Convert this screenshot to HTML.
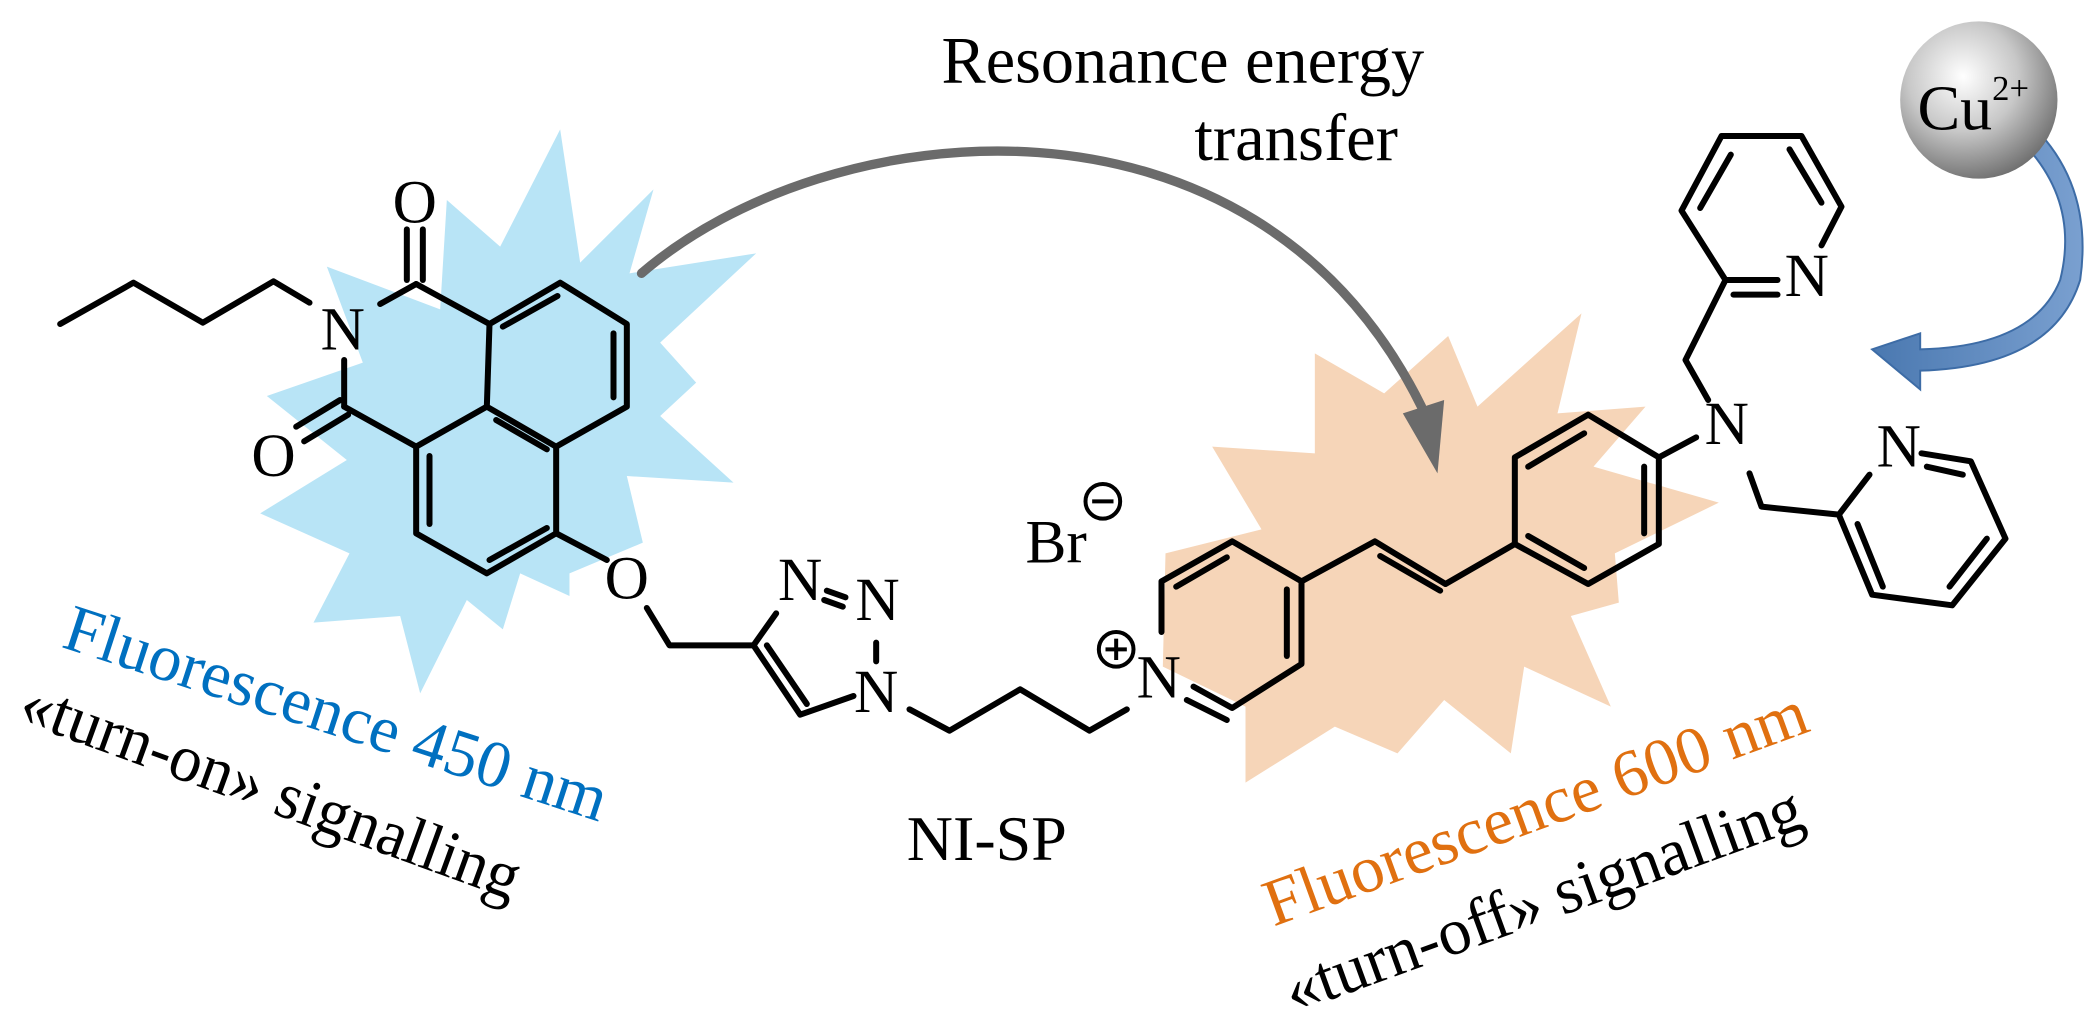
<!DOCTYPE html>
<html><head><meta charset="utf-8"><style>html,body{margin:0;padding:0;background:#fff}svg{display:block}</style></head>
<body>
<svg width="2091" height="1016" viewBox="0 0 1568 762" xmlns="http://www.w3.org/2000/svg" style="font-family:'Liberation Serif',serif">
<defs>
<radialGradient id="sph" cx="0.4" cy="0.35" r="0.7">
<stop offset="0" stop-color="#ffffff"/><stop offset="0.5" stop-color="#c8c8c8"/><stop offset="1" stop-color="#6a6a6a"/>
</radialGradient>
<linearGradient id="bl" x1="0" y1="0" x2="1" y2="0"><stop offset="0" stop-color="#4a78b0"/><stop offset="1" stop-color="#7aa0d0"/></linearGradient>
</defs>
<polygon fill="#b8e4f6" points="420,97 435,197 490,142 472,205 567,190 495,257 522,287 495,312 550,362 470,357 482,407 427,430 427,447 390,430 377,472 350,450 315,520 300,462 235,467 262,415 195,385 260,345 200,297 272,272 245,200 330,232 335,150 375,185"/>
<polygon fill="#f6d5b8" points="1186,235 1168,310 1234,305 1195,350 1289,377 1211,415 1214,452 1178,462 1208,530 1143,500 1133,565 1083,525 1048,565 1001,545 934,587 934,530 872,500 874,415 946,397 909,335 986,340 986,265 1038,295 1086,252 1108,305"/>
<path d="M481,205 C620,85 940,50 1066,305" fill="none" stroke="#6b6b6b" stroke-width="7" stroke-linecap="round"/>
<polygon fill="#6b6b6b" points="1052,310 1083,300 1078,355"/>
<path d="M1515,105 Q1560,150 1545,210 Q1525,260 1440,262 L1440,250 L1404,262 L1440,292 L1440,278 Q1540,275 1560,210 Q1570,140 1525,95 Z" fill="url(#bl)" stroke="#3d6ca6" stroke-width="1.5"/>
<circle cx="1484" cy="75" r="59" fill="url(#sph)"/>
<text x="1438" y="97" font-size="48">Cu<tspan font-size="26" dy="-22">2+</tspan></text>
<g stroke="#000" stroke-width="4.5" fill="none" stroke-linecap="round" stroke-linejoin="round">
<polyline points="45,243 100,212 152,242 205,211 232,227"/>
<line x1="285" y1="228" x2="312" y2="213"/>
<line x1="258" y1="270" x2="258" y2="305"/>
<line x1="312" y1="213" x2="367" y2="243"/>
<line x1="258" y1="305" x2="312" y2="335"/>
<line x1="305" y1="210" x2="305" y2="172"/><line x1="317" y1="210" x2="317" y2="172"/>
<line x1="255" y1="300" x2="222" y2="320"/><line x1="261" y1="311" x2="228" y2="331"/>
<polygon points="367,243 420,212 470,243 470,305 417,335 365,305"/>
<polyline points="365,305 312,335 312,400 365,430 417,400 417,335"/>
<line x1="377" y1="245" x2="418" y2="222"/>
<line x1="460" y1="250" x2="460" y2="298"/>
<line x1="372" y1="315" x2="410" y2="337"/>
<line x1="322" y1="342" x2="322" y2="393"/>
<line x1="367" y1="420" x2="410" y2="396"/>
<line x1="417" y1="400" x2="455" y2="420"/>
<polyline points="485,456 502,484 565,484"/>
<polyline points="565,484 600,536 640,522"/>
<line x1="575" y1="484" x2="605" y2="528"/>
<line x1="565" y1="484" x2="582" y2="460"/>
<line x1="618" y1="450" x2="632" y2="455"/><line x1="620" y1="443" x2="634" y2="448"/>
<line x1="657" y1="482" x2="657" y2="496"/>
<polyline points="682,532 712,548 765,517 817,548 845,532"/>
<polyline points="871,474 871,436 924,406 976,436 976,498 924,531 895,515"/>
<line x1="882" y1="440" x2="920" y2="418"/>
<line x1="965" y1="442" x2="965" y2="492"/>
<line x1="890" y1="525" x2="920" y2="540"/>
<polyline points="976,436 1031,406 1084,438 1136,408"/>
<line x1="1035" y1="417" x2="1080" y2="443"/>
<polygon points="1136,408 1136,343 1191,311 1244,343 1244,408 1191,438"/>
<line x1="1146" y1="350" x2="1188" y2="325"/>
<line x1="1233" y1="350" x2="1233" y2="400"/>
<line x1="1146" y1="402" x2="1188" y2="426"/>
<line x1="1244" y1="343" x2="1272" y2="328"/>
<polyline points="1281,300 1264,270 1294,210"/>
<polyline points="1294,210 1261,158 1291,102 1351,102 1381,155 1366,184"/>
<line x1="1294" y1="210" x2="1333" y2="210"/><line x1="1300" y1="221" x2="1333" y2="221"/>
<line x1="1275" y1="156" x2="1298" y2="116"/>
<line x1="1342" y1="112" x2="1366" y2="152"/>
<polyline points="1312,355 1321,380 1379,386 1404,446 1464,454 1504,404 1478,346 1441,340"/>
<line x1="1379" y1="386" x2="1402" y2="356"/>
<line x1="1393" y1="393" x2="1412" y2="440"/>
<line x1="1462" y1="440" x2="1490" y2="404"/>
<line x1="1445" y1="350" x2="1472" y2="356"/>
</g>
<g font-size="46" fill="#000" text-anchor="middle">
<text x="257" y="262">N</text>
<text x="311" y="167">O</text>
<text x="205" y="357">O</text>
<text x="470" y="449">O</text>
<text x="600" y="450">N</text>
<text x="658" y="465">N</text>
<text x="657" y="534">N</text>
<text x="869" y="523">N</text>
<text x="1295" y="333">N</text>
<text x="1355" y="222">N</text>
<text x="1424" y="350">N</text>
<text x="792" y="422">Br</text>
</g>
<g stroke="#000" stroke-width="3" fill="none">
<circle cx="827" cy="376" r="13"/><line x1="819" y1="376" x2="835" y2="376"/>
<circle cx="837" cy="487" r="13"/><line x1="829" y1="487" x2="845" y2="487"/><line x1="837" y1="479" x2="837" y2="495"/>
</g>
<text x="887" y="62" font-size="50" text-anchor="middle" textLength="362" lengthAdjust="spacingAndGlyphs">Resonance energy</text>
<text x="972" y="120" font-size="50" text-anchor="middle">transfer</text>
<text x="740" y="645" font-size="48" text-anchor="middle">NI-SP</text>
<text transform="translate(45,485) rotate(18)" font-size="50" fill="#0070c0" textLength="425" lengthAdjust="spacingAndGlyphs">Fluorescence 450 nm</text>
<text transform="translate(12,540) rotate(20)" font-size="50" fill="#000" textLength="395" lengthAdjust="spacingAndGlyphs">«turn-on» signalling</text>
<text transform="translate(955,695) rotate(-20)" font-size="50" fill="#e07010" textLength="430" lengthAdjust="spacingAndGlyphs">Fluorescence 600 nm</text>
<text transform="translate(970,760) rotate(-20)" font-size="50" fill="#000" textLength="410" lengthAdjust="spacingAndGlyphs">«turn-off» signalling</text>
</svg>
</body></html>
